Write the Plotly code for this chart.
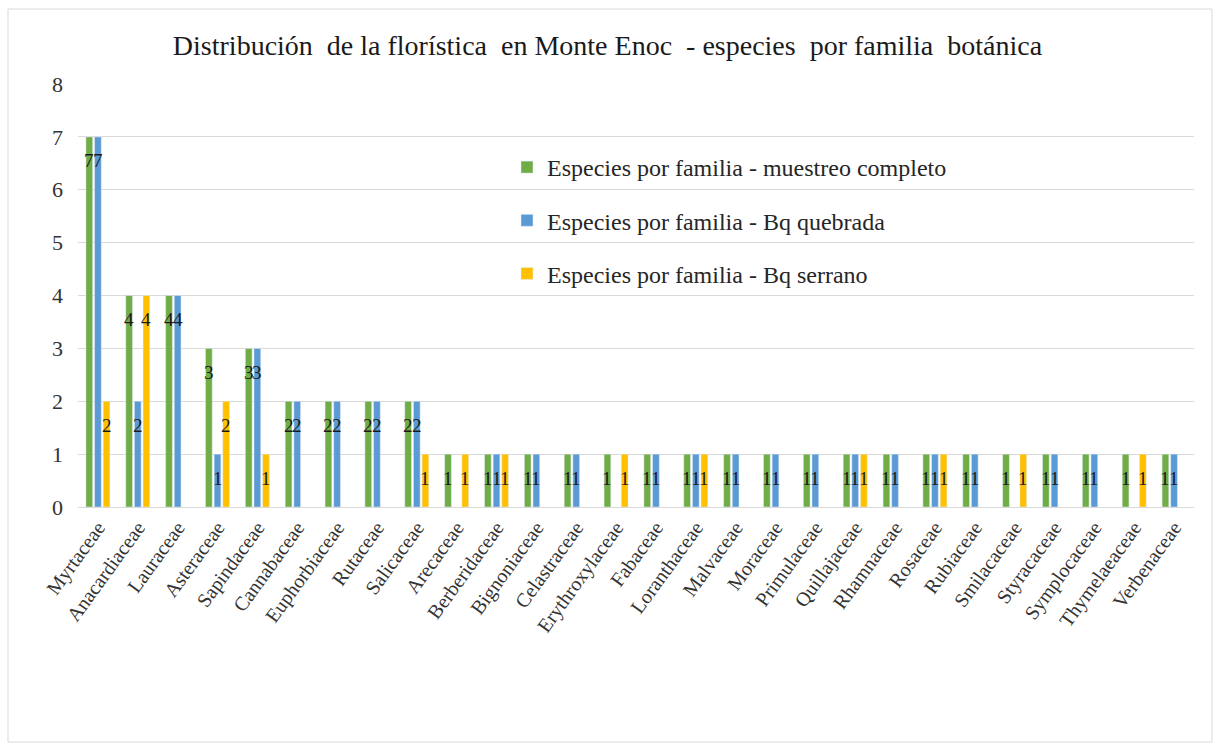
import plotly.graph_objects as go

# Familias botánicas registradas en Monte Enoc
familias = [
    "Myrtaceae", "Anacardiaceae", "Lauraceae", "Asteraceae", "Sapindaceae",
    "Cannabaceae", "Euphorbiaceae", "Rutaceae", "Salicaceae", "Arecaceae",
    "Berberidaceae", "Bignoniaceae", "Celastraceae", "Erythroxylaceae",
    "Fabaceae", "Loranthaceae", "Malvaceae", "Moraceae", "Primulaceae",
    "Quillajaceae", "Rhamnaceae", "Rosaceae", "Rubiaceae", "Smilacaceae",
    "Styracaceae", "Symplocaceae", "Thymelaeaceae", "Verbenaceae",
]

# Número de especies por familia (None = sin registro)
muestreo_completo = [7, 4, 4, 3, 3, 2, 2, 2, 2, 1, 1, 1, 1, 1,
                     1, 1, 1, 1, 1, 1, 1, 1, 1, 1, 1, 1, 1, 1]
bq_quebrada = [7, 2, 4, 1, 3, 2, 2, 2, 2, None, 1, 1, 1, None,
               1, 1, 1, 1, 1, 1, 1, 1, 1, None, 1, 1, None, 1]
bq_serrano = [2, 4, None, 2, 1, None, None, None, 1, 1, 1, None, None, 1,
              None, 1, None, None, None, 1, None, 1, None, 1, None, None, 1, None]

series = [
    ("Especies por familia - muestreo completo", muestreo_completo, "#70AD47"),
    ("Especies por familia - Bq quebrada", bq_quebrada, "#5B9BD5"),
    ("Especies por familia - Bq serrano", bq_serrano, "#FFC000"),
]

W, H = 1215, 743
ML, MR, MT, MB = 78, 21, 84, 236
BARGAP, GROUPGAP = 0.35, 0.22
SERIF = "Liberation Serif"

plot_w = W - ML - MR
plot_h = H - MT - MB
cat_w = plot_w / len(familias)
slot = cat_w * (1 - BARGAP) / len(series)

fig = go.Figure()
annotations = []
for i, (name, vals, color) in enumerate(series):
    fig.add_trace(go.Bar(
        x=familias, y=vals, name=name, marker_color=color,
        legendgroup=name,
    ))
    shift = (i - (len(series) - 1) / 2) * slot
    for fam, v in zip(familias, vals):
        if v is None:
            continue
        annotations.append(dict(
            x=fam, y=v, text=str(v), showarrow=False,
            xanchor="center", yanchor="middle",
            xshift=shift, yshift=-24,
            font=dict(family=SERIF, size=19, color="#1a1a1a"),
        ))

# Marco exterior del gráfico
frame = dict(
    type="rect", xref="paper", yref="paper",
    x0=(8 - ML) / plot_w, x1=(1212 - ML) / plot_w,
    y0=(MT + plot_h - 742) / plot_h, y1=(MT + plot_h - 9) / plot_h,
    line=dict(color="#d9d9d9", width=1), fillcolor="rgba(0,0,0,0)",
    layer="below",
)

fig.update_layout(
    width=W, height=H,
    margin=dict(l=ML, r=MR, t=MT, b=MB),
    paper_bgcolor="white", plot_bgcolor="white",
    font=dict(family=SERIF),
    barmode="group", bargap=BARGAP, bargroupgap=GROUPGAP,
    title=dict(
        text="Distribución  de la florística  en Monte Enoc  - especies  por familia  botánica",
        x=0.5, xref="container", xanchor="center", y=1 - 45 / H, yanchor="middle",
        font=dict(family=SERIF, size=28, color="#1a1a1a"),
    ),
    legend=dict(
        x=(507 - ML) / plot_w, y=(MT + plot_h - 145) / plot_h,
        xanchor="left", yanchor="top",
        bgcolor="rgba(0,0,0,0)", traceorder="grouped", tracegroupgap=19,
        font=dict(family=SERIF, size=24, color="#262626"),
        itemwidth=30,
    ),
    xaxis=dict(
        tickangle=-54, showgrid=False, showline=True,
        linecolor="#d9d9d9", linewidth=1, ticks="",
        tickfont=dict(family=SERIF, size=20, color="#333333"),
    ),
    yaxis=dict(
        range=[0, 8], dtick=1, showgrid=True, gridcolor="#d9d9d9",
        gridwidth=1, zeroline=False, showline=False, ticks="",
        ticklabelstandoff=14,
        tickfont=dict(family=SERIF, size=22, color="#333333"),
    ),
    annotations=annotations,
    shapes=[frame],
)

fig.write_html("out.html")
